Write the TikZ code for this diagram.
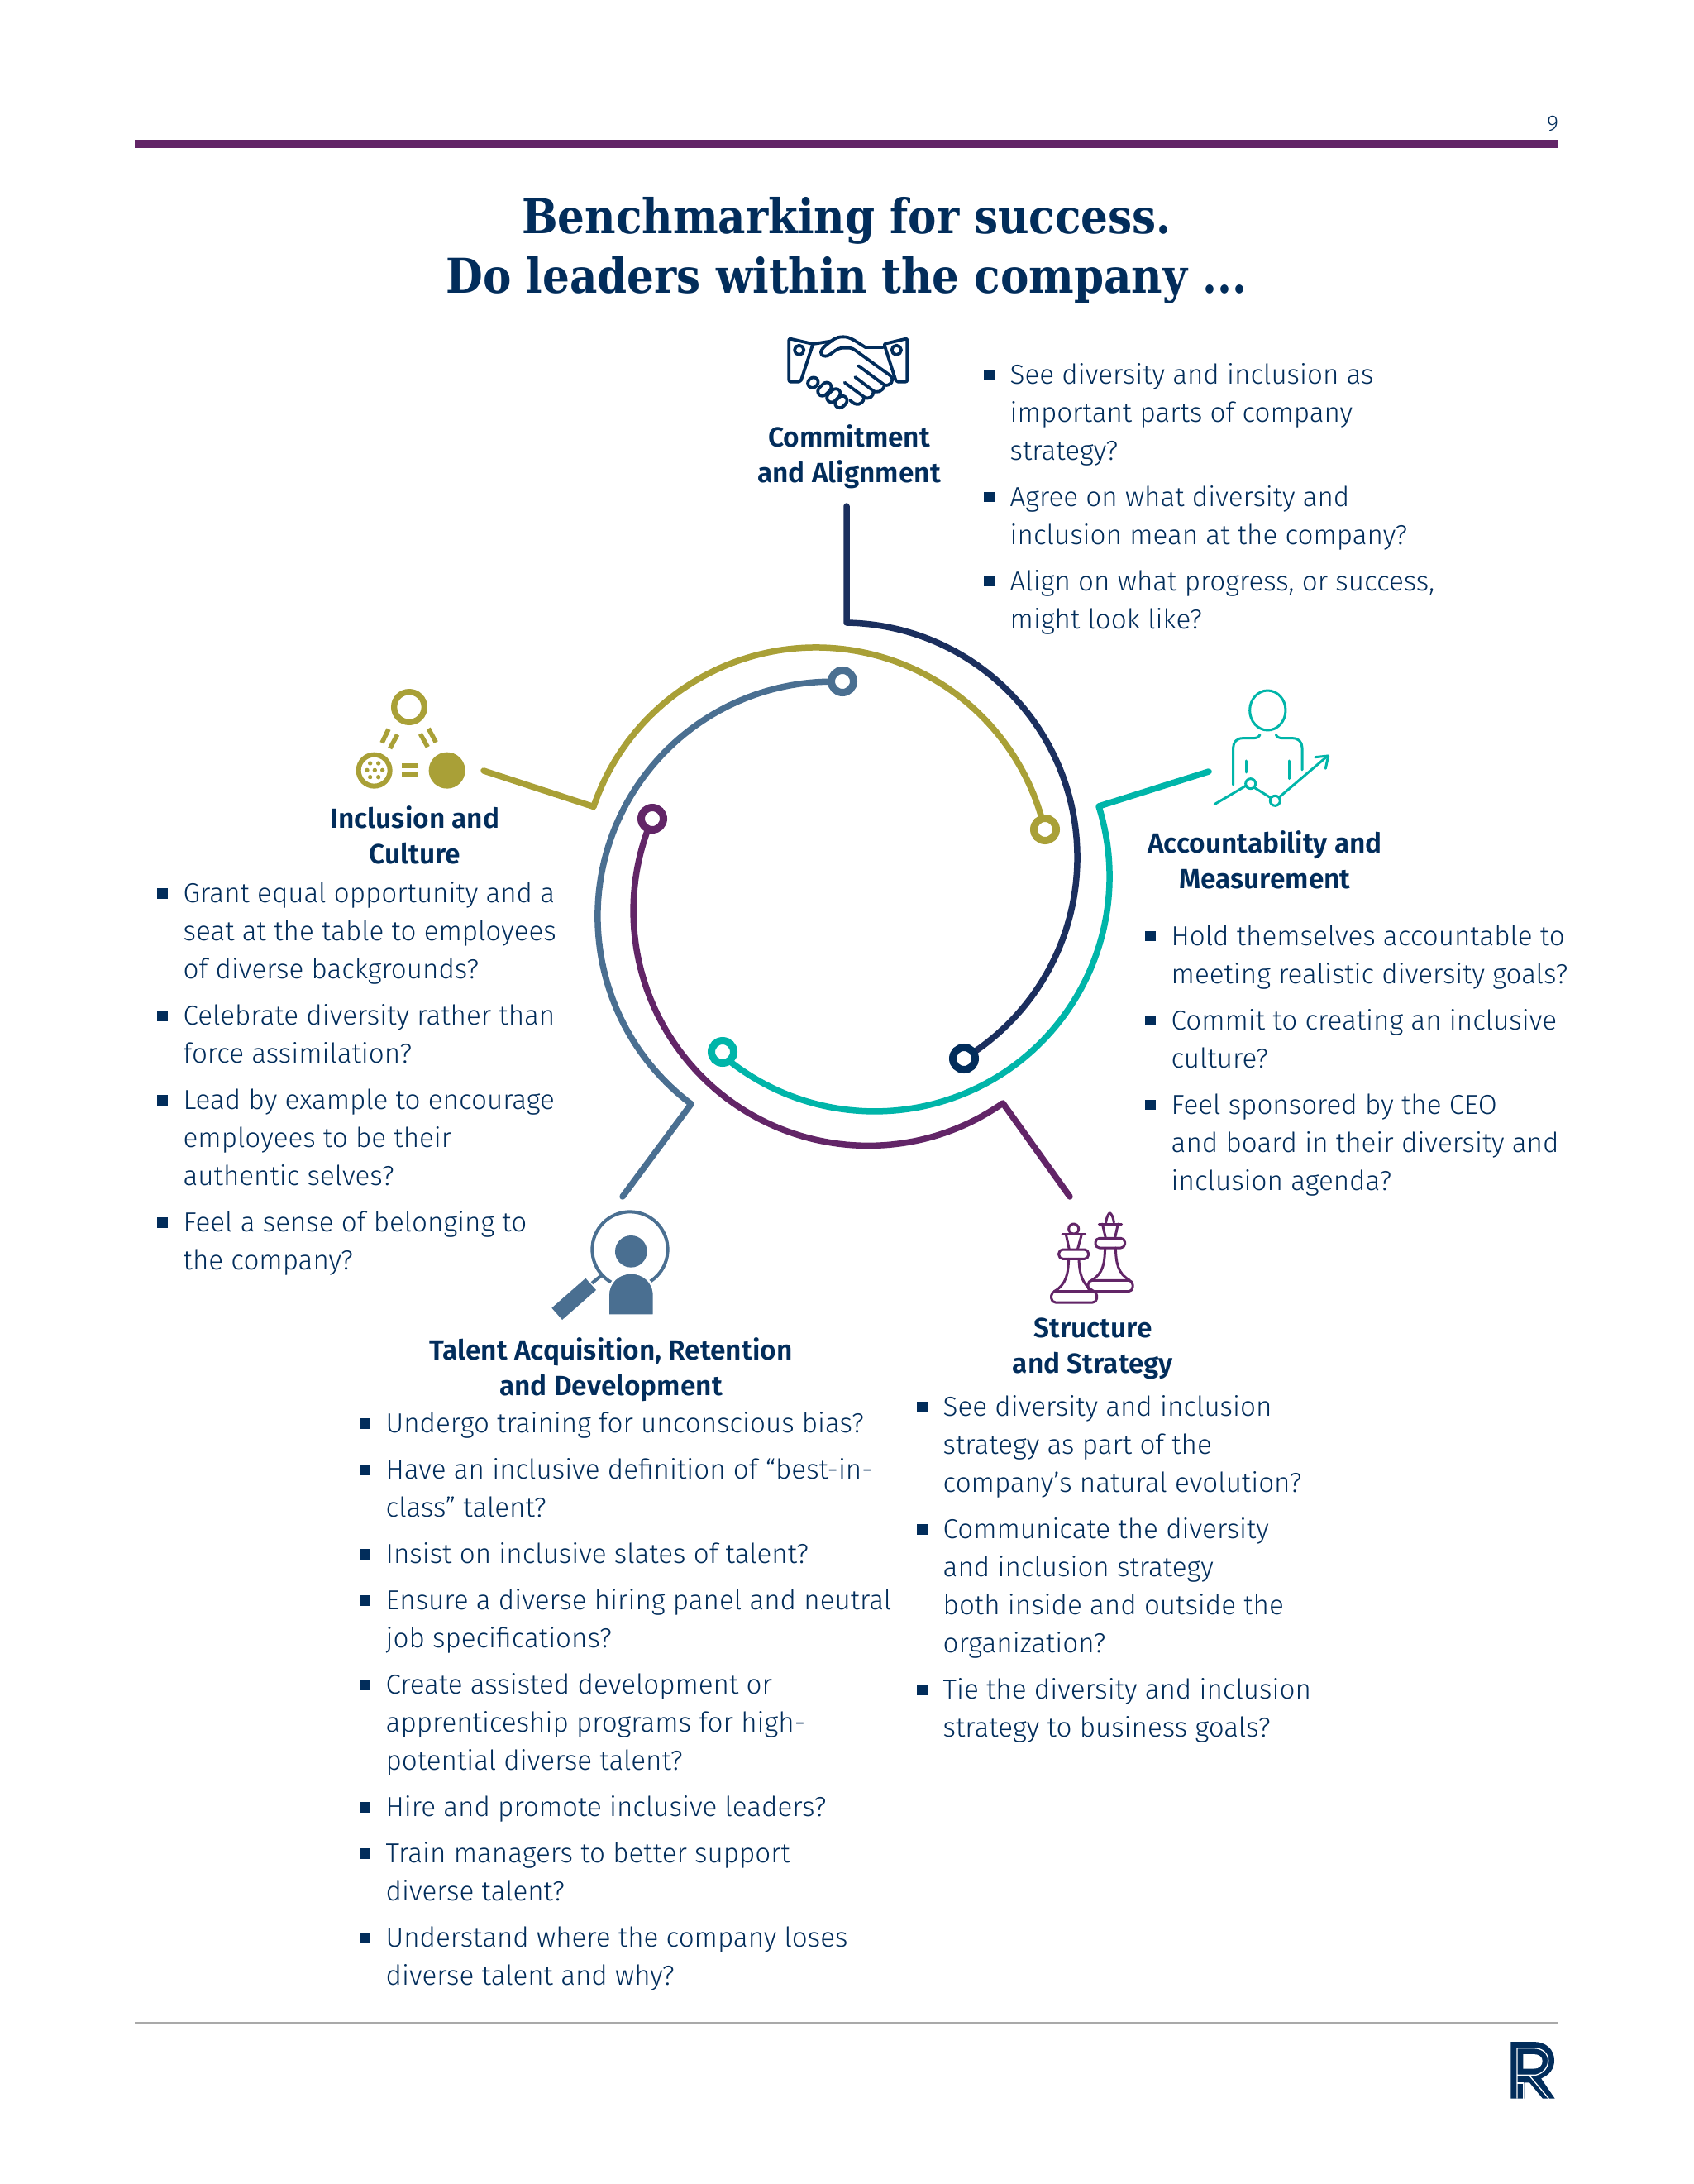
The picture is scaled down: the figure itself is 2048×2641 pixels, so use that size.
\documentclass[tikz,border=0pt]{standalone}
\usepackage{fontspec}
\usepackage{tikz}
\usetikzlibrary{positioning}
\setmainfont{Fira Sans}[UprightFont=* Light,BoldFont=* SemiBold]
\newfontfamily\titlefont{DejaVu Serif}[BoldFont=* Bold,FakeStretch=0.89]
\definecolor{inkblue}{HTML}{022D5B}
\definecolor{navyline}{HTML}{1B2F5E}
\definecolor{oliveline}{HTML}{A9A037}
\definecolor{steelline}{HTML}{4A6F91}
\definecolor{plumline}{HTML}{622567}
\definecolor{tealline}{HTML}{00B5A9}
\definecolor{rulegray}{HTML}{A9A9A9}
\newcommand{\qs}{\rule[-14pt]{0pt}{46pt}}
\newcommand{\hs}{\rule[-13pt]{0pt}{43pt}}
\tikzset{
  question/.style={font=\fontsize{33.2}{46}\selectfont,text=inkblue,align=left,inner sep=0pt,anchor=north west},
  nextq/.style={below=9.6pt of #1.south west,anchor=north west},
  heading/.style={font=\fontsize{33.5}{43}\selectfont\bfseries,text=inkblue,align=center,inner sep=0pt},
  sqbullet/.style={fill=inkblue,inner sep=0pt,minimum size=12.5pt},
  ring/.style={circle,draw=#1,fill=white,line width=9pt,minimum size=27pt,inner sep=0pt},
  track/.style={draw=#1,line width=7.5pt,line cap=round,line join=round},
  icon/.style={draw=#1,line cap=round,line join=round,line width=3pt},
  handicon/.style={draw=inkblue,line cap=round,line join=round,line width=3.8pt}
}
\begin{document}
\begin{tikzpicture}[x=1pt,y=1pt]
\useasboundingbox (0,0) rectangle (2048,-2641);
\fill[white] (0,0) rectangle (2048,-2641);

\coordinate (toprulea) at (163,-174.5);
\coordinate (topruleb) at (1885,-174.5);
\coordinate (footrulea) at (163,-2446);
\coordinate (footruleb) at (1885,-2446);
\draw[plumline,line width=10pt] (toprulea) -- (topruleb);
\draw[rulegray,line width=2pt] (footrulea) -- (footruleb);
\node[text=inkblue,font=\fontsize{27}{30}\selectfont,inner sep=0pt] (pagenum) at (1878,-150) {9};

\node[font=\fontsize{58}{72}\selectfont\titlefont\bfseries,text=inkblue,align=center,inner sep=0pt] (title) at (1024,-303)
  {Benchmarking for success.\\Do leaders within the company ...};

% arcs
\coordinate (navyend) at (1024,-612);
\coordinate (navybend) at (1024,-753);
\draw[track=navyline] (navyend) -- (navybend) arc[start angle=89,end angle=-58.8,radius=284];
\coordinate (oliveend) at (585,-932);
\coordinate (olivebend) at (718,-975.5);
\draw[track=oliveline] (oliveend) -- (olivebend) arc[start angle=161.2,end angle=13,radius=284];
\coordinate (steelend) at (753,-1447);
\coordinate (steelbend) at (836,-1335);
\draw[track=steelline] (steelend) -- (steelbend) arc[start angle=233,end angle=87.6,radius=284];
\coordinate (plumend) at (1294,-1447);
\coordinate (plumbend) at (1213,-1334);
\draw[track=plumline] (plumend) -- (plumbend) arc[start angle=305,end angle=157.1,radius=284];
\coordinate (tealend) at (1462,-933);
\coordinate (tealbend) at (1329,-975);
\draw[track=tealline] (tealend) -- (tealbend) arc[start angle=17.4,end angle=-131,radius=284];

\node[ring=inkblue] (navyring) at (1166,-1280) {};
\node[ring=oliveline] (olivering) at (1264,-1003) {};
\node[ring=steelline] (steelring) at (1019,-824) {};
\node[ring=plumline] (plumring) at (789,-990) {};
\node[ring=tealline] (tealring) at (874,-1272) {};

% commitment and alignment
\node[heading] (cahead) at (1027,-553) {\hs Commitment\\and Alignment\hs};
\node[question] (ca1) at (1221.5,-432) {\qs See diversity and inclusion as\\important parts of company\\strategy?\qs};
\node[question,nextq=ca1] (ca2) {\qs Agree on what diversity and\\inclusion mean at the company?\qs};
\node[question,nextq=ca2] (ca3) {\qs Align on what progress, or success,\\might look like?\qs};

% accountability and measurement
\node[heading] (amhead) at (1530,-1044.5) {\hs Accountability and\\Measurement\hs};
\node[question] (am1) at (1416.5,-1111) {\qs Hold themselves accountable to\\meeting realistic diversity goals?\qs};
\node[question,nextq=am1] (am2) {\qs Commit to creating an inclusive\\culture?\qs};
\node[question,nextq=am2] (am3) {\qs Feel sponsored by the CEO\\and board in their diversity and\\inclusion agenda?\qs};

% inclusion and culture
\node[heading] (ichead) at (502,-1014) {\hs Inclusion and\\Culture\hs};
\node[question] (ic1) at (221.5,-1059.5) {\qs Grant equal opportunity and a\\seat at the table to employees\\of diverse backgrounds?\qs};
\node[question,nextq=ic1] (ic2) {\qs Celebrate diversity rather than\\force assimilation?\qs};
\node[question,nextq=ic2] (ic3) {\qs Lead by example to encourage\\employees to be their\\authentic selves?\qs};
\node[question,nextq=ic3] (ic4) {\qs Feel a sense of belonging to\\the company?\qs};

% talent
\node[heading] (tahead) at (739,-1657) {\hs Talent Acquisition, Retention\\and Development\hs};
\node[question] (ta1) at (466.5,-1700.5) {\qs Undergo training for unconscious bias?\qs};
\node[question,nextq=ta1] (ta2) {\qs Have an inclusive definition of “best-in-\\class” talent?\qs};
\node[question,nextq=ta2] (ta3) {\qs Insist on inclusive slates of talent?\qs};
\node[question,nextq=ta3] (ta4) {\qs Ensure a diverse hiring panel and neutral\\job specifications?\qs};
\node[question,nextq=ta4] (ta5) {\qs Create assisted development or\\apprenticeship programs for high-\\potential diverse talent?\qs};
\node[question,nextq=ta5] (ta6) {\qs Hire and promote inclusive leaders?\qs};
\node[question,nextq=ta6] (ta7) {\qs Train managers to better support\\diverse talent?\qs};
\node[question,nextq=ta7] (ta8) {\qs Understand where the company loses\\diverse talent and why?\qs};

% structure
\node[heading] (sshead) at (1322,-1630) {\hs Structure\\and Strategy\hs};
\node[question] (ss1) at (1140.5,-1680.5) {\qs See diversity and inclusion\\strategy as part of the\\company’s natural evolution?\qs};
\node[question,nextq=ss1] (ss2) {\qs Communicate the diversity\\and inclusion strategy\\both inside and outside the\\organization?\qs};
\node[question,nextq=ss2] (ss3) {\qs Tie the diversity and inclusion\\strategy to business goals?\qs};

\foreach \q in {ca1,ca2,ca3,am1,am2,am3,ic1,ic2,ic3,ic4,ta1,ta2,ta3,ta4,ta5,ta6,ta7,ta8,ss1,ss2,ss3}
  \node[sqbullet] (b\q) at ([shift={(-25,-21)}]\q.north west) {};

% handshake
\begin{scope}[shift={(900,-380)},scale=0.3333]
\draw[handicon,rounded corners=2] (163,-88) -- (250,-108) -- (205,-245) -- (163,-245) -- cycle;
\draw[handicon,rounded corners=2] (592,-88) -- (508,-108) -- (552,-245) -- (592,-245) -- cycle;
\draw[handicon] (200,-130) circle (17);
\draw[handicon] (553,-130) circle (17);
\draw[handicon] (250,-108) -- (320,-97);
\draw[handicon] (505,-120) -- (440,-120) .. controls (400,-95) and (385,-82) .. (360,-82) .. controls (330,-82) and (320,-95) .. (300,-110) .. controls (275,-130) and (270,-150) .. (295,-152) .. controls (315,-152) and (330,-122) .. (360,-122) .. controls (380,-122) and (390,-120) .. (405,-132) -- (530,-222) .. controls (550,-240) and (530,-262) .. (510,-257) -- (415,-187);
\draw[handicon] (510,-257) .. controls (505,-280) and (480,-290) .. (465,-275) -- (403,-228);
\draw[handicon] (470,-280) .. controls (470,-300) and (450,-312) .. (435,-300) -- (365,-248);
\draw[handicon] (435,-305) .. controls (430,-330) and (405,-335) .. (385,-312);
\foreach \x/\y/\w in {250/-248/20,292/-272/28,325/-295/28,352/-318/24}
  \draw[handicon,fill=white,rounded corners=6,shift={(\x,\y)},rotate=-135] (-\w,-17) rectangle (\w,17);
\end{scope}

% person and chart
\begin{scope}[shift={(1400,-800)},scale=0.3333]
\draw[icon=tealline] (400,-177) ellipse (65 and 72);
\draw[icon=tealline] (372,-265) .. controls (368,-275) and (360,-278) .. (345,-278) -- (310,-278) .. controls (288,-278) and (275,-292) .. (275,-312) -- (275,-447);
\draw[icon=tealline] (430,-265) .. controls (434,-275) and (442,-278) .. (457,-278) -- (490,-278) .. controls (512,-278) and (525,-292) .. (525,-312) -- (525,-393);
\draw[icon=tealline] (323,-360) -- (323,-402);
\draw[icon=tealline] (477,-360) -- (477,-425);
\draw[icon=tealline] (207,-518) -- (322,-450);
\draw[icon=tealline] (353,-458) -- (412,-495);
\draw[icon=tealline] (442,-492) -- (618,-342);
\draw[icon=tealline] (572,-347) -- (620,-342) -- (610,-388);
\draw[icon=tealline] (338,-443) circle (18);
\draw[icon=tealline] (427,-505) circle (18);
\end{scope}

% triangle of circles
\begin{scope}[shift={(400,-800)},scale=0.3333]
\draw[oliveline,line width=7.3pt] (285,-165) circle (55);
\draw[oliveline,line width=6pt] (158,-395) circle (57);
\fill[oliveline] (422,-395) circle (66);
\foreach \x/\y in {143/-369,173/-369,132/-394,160/-394,188/-394,143/-419,173/-419}
  \fill[oliveline] (\x,\y) circle (8);
\fill[oliveline] (259,-368) rectangle (318,-386);
\fill[oliveline] (259,-403) rectangle (318,-420);
\draw[oliveline,line width=5.5pt] (210,-245) -- (186,-295) (242,-265) -- (215,-315);
\draw[oliveline,line width=5.5pt] (355,-243) -- (382,-293) (325,-262) -- (352,-310);
\end{scope}

% magnifier
\begin{scope}[shift={(640,-1430)},scale=0.3333]
\draw[steelline,line width=4pt] (366,-243) circle (137);
\draw[steelline,line width=4pt] (228,-365) -- (265,-335);
\fill[steelline] (82,-455) -- (205,-347) -- (243,-390) -- (120,-498) -- cycle;
\fill[steelline] (370,-250) circle (58);
\draw[white,line width=2.5pt,fill=steelline] (287,-482) -- (287,-410) .. controls (287,-360) and (325,-328) .. (370,-328) .. controls (415,-328) and (453,-360) .. (453,-410) -- (453,-482) -- cycle;
\end{scope}

% chess pieces
\begin{scope}[shift={(1240,-1440)},scale=0.3333]
\draw[icon=plumline,fill=white,rounded corners=5] (228,-325) rectangle (390,-365);
\draw[icon=plumline] (293,-115) .. controls (295,-95) and (303,-82) .. (307,-80) .. controls (312,-82) and (320,-95) .. (322,-115);
\draw[icon=plumline] (268,-120) -- (350,-120);
\draw[icon=plumline] (280,-120) -- (293,-175) (337,-120) -- (325,-175);
\draw[icon=plumline,rounded corners=5] (255,-172) rectangle (362,-207);
\draw[icon=plumline] (290,-207) .. controls (288,-260) and (285,-300) .. (240,-325);
\draw[icon=plumline] (328,-207) .. controls (330,-260) and (335,-300) .. (380,-325);
\draw[icon=plumline,fill=white,rounded corners=5] (95,-365) rectangle (260,-405);
\draw[icon=plumline] (176,-138) circle (18);
\draw[icon=plumline] (135,-158) -- (218,-158);
\draw[icon=plumline] (148,-158) -- (160,-213) (205,-158) -- (190,-213);
\draw[icon=plumline,fill=white,rounded corners=5] (122,-213) rectangle (230,-247);
\draw[icon=plumline] (158,-247) .. controls (156,-300) and (150,-340) .. (105,-365);
\draw[icon=plumline] (195,-247) .. controls (197,-300) and (205,-340) .. (250,-365);
\end{scope}

% logo
\begin{scope}[shift={(1800,-2450)},scale=0.3333]
\fill[inkblue] (82,-263) -- (82,-57) -- (165,-57) .. controls (210,-57) and (240,-85) .. (240,-125) .. controls (240,-155) and (222,-178) .. (192,-190) -- (242,-263) -- (198,-263) -- (150,-205) -- (130,-205) -- (130,-263) -- cycle;
\fill[white] (127,-102) -- (165,-102) .. controls (185,-102) and (197,-112) .. (197,-127) .. controls (197,-143) and (185,-155) .. (165,-155) -- (127,-155) -- cycle;
\draw[white,line width=1.3pt] (105,-263) -- (105,-80) -- (165,-80) .. controls (198,-80) and (218,-100) .. (218,-125) .. controls (218,-150) and (200,-172) .. (172,-178) -- (105,-178);
\draw[white,line width=1.3pt] (105,-207) -- (128,-207) -- (128,-263);
\draw[white,line width=1.3pt] (150,-180) -- (220,-263);
\end{scope}
\end{tikzpicture}
\end{document}
